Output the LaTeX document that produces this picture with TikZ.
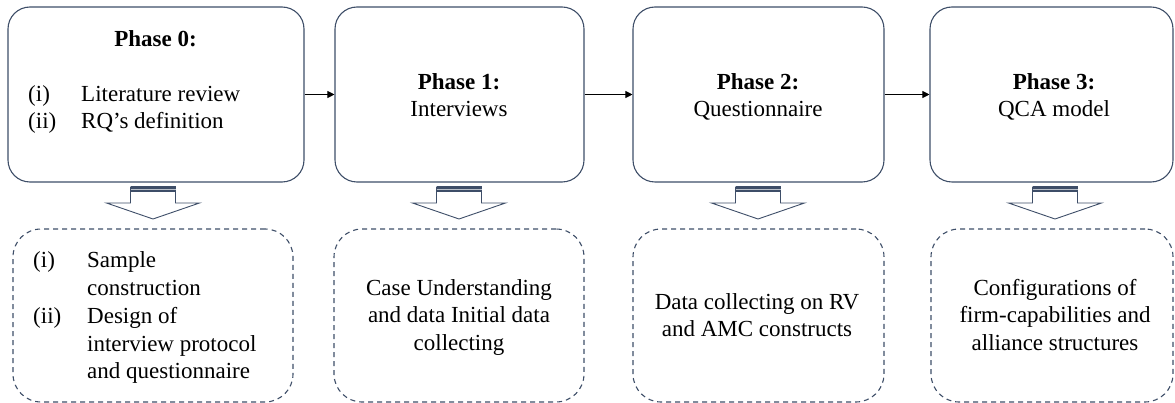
\documentclass[tikz,border=0pt]{standalone}
\usepackage{fontspec}
\IfFontExistsTF{LiberationSerif-Regular.ttf}{%
  \setmainfont{LiberationSerif}[Extension=.ttf, UprightFont=*-Regular, BoldFont=*-Bold, ItalicFont=*-Italic, BoldItalicFont=*-BoldItalic]}{%
  \setmainfont{Liberation Serif}}
\usetikzlibrary{arrows.meta}
\definecolor{bc}{RGB}{62,78,104}
\begin{document}
\begin{tikzpicture}[x=1pt,y=-1pt,
  phase/.style={draw=bc, line width=1.1pt, rounded corners=22pt, minimum height=175pt, inner sep=0pt},
  outbox/.style={draw=bc, line width=1.1pt, dash pattern=on 5pt off 4pt, rounded corners=28pt, minimum height=173pt, inner sep=0pt},
  txt/.style={anchor=base, inner sep=0pt, font=\rmfamily\fontsize{23}{27}\selectfont},
  ttl/.style={txt, font=\rmfamily\fontsize{23}{27}\selectfont\bfseries},
  lft/.style={txt, anchor=base west},
  flow/.style={-{Triangle[length=7pt,width=7pt]}, line width=1pt, black},
  blk/.style={draw=bc, line width=0.9pt, fill=white, line join=miter}]
\useasboundingbox (0,0) rectangle (1175,403);

% phase boxes
\node[phase, minimum width=296pt] (b0) at (156,94.5) {};
\node[phase, minimum width=249pt] (b1) at (459.5,94.5) {};
\node[phase, minimum width=251pt] (b2) at (758.5,94.5) {};
\node[phase, minimum width=243pt] (b3) at (1051.5,94.5) {};

% outcome boxes
\node[outbox, minimum width=280pt] (d0) at (153,315.5) {};
\node[outbox, minimum width=250pt] (d1) at (459,315.5) {};
\node[outbox, minimum width=251pt] (d2) at (758.5,315.5) {};
\node[outbox, minimum width=242pt] (d3) at (1052,315.5) {};

% flow arrows
\draw[flow] (b0) -- (b1);
\draw[flow] (b1) -- (b2);
\draw[flow] (b2) -- (b3);

% block arrows
\foreach \c in {153,459,758,1055}{
  \draw[blk] (\c-22.5,187) -- (\c-22.5,203) -- (\c-46.5,203) -- (\c,219) -- (\c+46.5,203) -- (\c+22.5,203) -- (\c+22.5,187) -- cycle;
  \fill[bc] (\c-22.5,186.5) rectangle (\c+22.5,192);
  \draw[bc!35, line width=0.8pt] (\c-22.5,189.3) -- (\c+22.5,189.3);
}

% phase 0 text
\node[ttl] (t0) at (155.5,46.5) {Phase 0:};
\node[lft] (t0a) at (28,101.5) {(i)};
\node[lft] (t0b) at (81,101.5) {Literature review};
\node[lft] (t0c) at (28,129) {(ii)};
\node[lft] (t0d) at (81,129) {RQ’s definition};

% phase 1-3 text
\node[ttl] (t1) at (459,89.5) {Phase 1:};
\node[txt] (t1a) at (459,117) {Interviews};
\node[ttl] (t2) at (758,89.5) {Phase 2:};
\node[txt] (t2a) at (758,117) {Questionnaire};
\node[ttl] (t3) at (1054,89.5) {Phase 3:};
\node[txt] (t3a) at (1054,117) {QCA model};

% outcome 0 text
\node[lft] (u0a) at (33,268) {(i)};
\node[lft] (u0b) at (87,268) {Sample};
\node[lft] (u0c) at (87,295.7) {construction};
\node[lft] (u0d) at (33,323.4) {(ii)};
\node[lft] (u0e) at (87,323.4) {Design of};
\node[lft] (u0f) at (87,351.1) {interview protocol};
\node[lft] (u0g) at (87,378.8) {and questionnaire};

% outcome 1 text
\node[txt] (u1a) at (459,295.5) {Case Understanding};
\node[txt] (u1b) at (459,323) {and data Initial data};
\node[txt] (u1c) at (459,350.5) {collecting};

% outcome 2 text
\node[txt] (u2a) at (757,309) {Data collecting on RV};
\node[txt] (u2b) at (757,336.5) {and AMC constructs};

% outcome 3 text
\node[txt] (u3a) at (1055,295.5) {Configurations of};
\node[txt] (u3b) at (1055,323) {firm-capabilities and};
\node[txt] (u3c) at (1055,350.5) {alliance structures};
\end{tikzpicture}
\end{document}
